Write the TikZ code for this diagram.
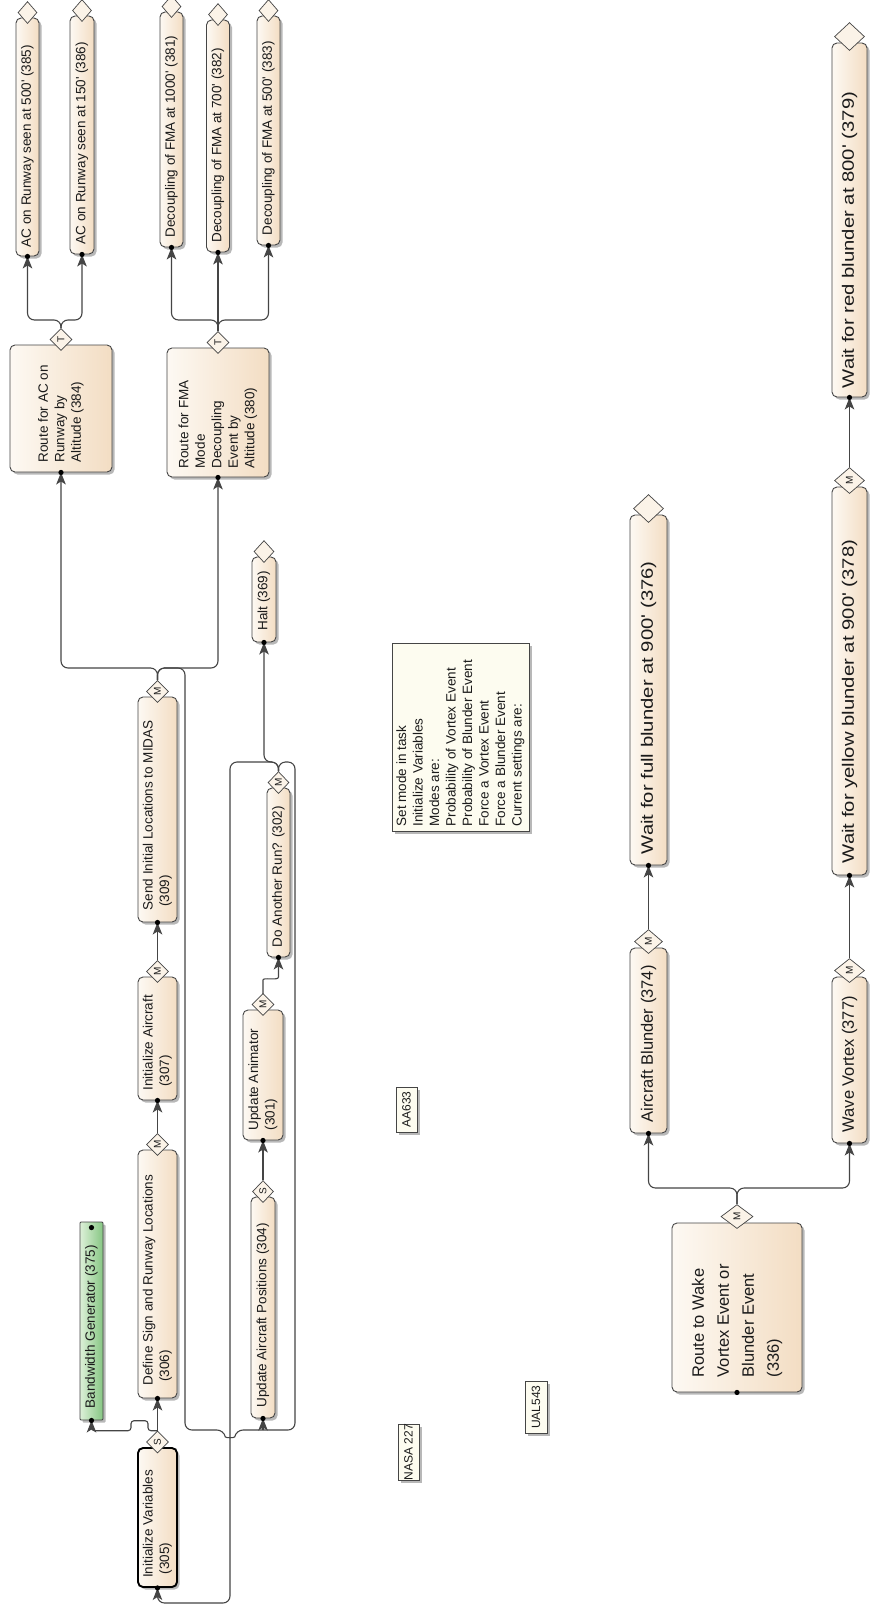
\documentclass[tikz,border=0pt]{standalone}
\usepackage{fontspec}
\setmainfont{Liberation Sans}
\usetikzlibrary{arrows.meta,shapes.geometric,calc,shadows}
\definecolor{boxL}{HTML}{FDF9F3}
\definecolor{boxR}{HTML}{F3DDC3}
\definecolor{edge}{HTML}{454545}
\definecolor{grnL}{HTML}{DDF0D8}
\definecolor{grnR}{HTML}{86C683}
\definecolor{noteF}{HTML}{FDFCF0}
\definecolor{txtc}{HTML}{1A1A1A}
\definecolor{diaF}{HTML}{FBF3E8}
\newcommand\bxx[6]{\node[#6,minimum width=#4,minimum height=#5] (#1) at (#2,#3) {};}
\newcommand\tx[4]{\node[#4] (t#1) at ($(#1.south)+(0,-#2)$) {#3};}
\newcommand\dm[5]{\node[dia,minimum width=#2,minimum height=#3] (d#1) at ($(n#1.north)+(0,-#4)$) {#5};}
\newcommand\sym[1]{\rotatebox{90}{\fontsize{10}{10}\selectfont #1}}
\newcommand\apos{\textquotesingle}
\newcommand\wide[1]{\scalebox{1.23}[1]{#1}}
\begin{document}
\begin{tikzpicture}[x=1pt,y=-1pt,
  shd/.style={drop shadow={shadow xshift=2.5pt,shadow yshift=-2.5pt,fill=black,opacity=0.28}},
  box/.style={draw=edge,line width=0.9pt,rounded corners=5pt,left color=boxL,right color=boxR,inner sep=0pt,shd},
  boldbox/.style={draw=black,line width=1.9pt},
  gbox/.style={draw=edge,line width=0.9pt,rounded corners=1pt,left color=grnL,right color=grnR,inner sep=0pt,shd},
  notebox/.style={draw=edge,line width=1pt,fill=noteF,inner sep=0pt,shd},
  lbl/.style={draw=edge,line width=0.9pt,fill=noteF,inner sep=0pt,shd},
  dia/.style={diamond,draw=edge,line width=0.7pt,fill=diaF,inner sep=0pt,text=txtc},
  txt/.style={rotate=90,anchor=west,align=left,inner sep=0pt,text=txtc,font=\fontsize{13.5}{16.5}\selectfont},
  bigtxt/.style={rotate=90,anchor=west,align=left,inner sep=0pt,text=txtc,font=\fontsize{16.5}{25}\selectfont},
  lbltxt/.style={rotate=90,inner sep=0pt,text=txtc,font=\fontsize{12}{12}\selectfont},
  conn/.style={draw=edge,line width=1.1pt,rounded corners=7pt},
  arr/.style={-{Stealth[length=12pt,width=9.5pt,inset=3pt]}},
  dot/.style={fill=black}
]
\useasboundingbox (0,0) rectangle (870,1614);
\fill[white] (0,0) rectangle (870,1614);

% ---------- boxes ----------
\bxx{n385}{27.5}{137}{23}{238}{box}
\bxx{n386}{82}{135}{24}{238}{box}
\bxx{n381}{171.5}{129.5}{23}{235}{box}
\bxx{n382}{218}{136}{23}{232}{box}
\bxx{n383}{268.5}{130.5}{23}{229}{box}
\bxx{n384}{61}{408.5}{102}{127}{box}
\bxx{n380}{218}{412.5}{102}{129}{box}
\bxx{n369}{264}{599.5}{24}{85}{box}
\bxx{n309}{157.5}{809.5}{39}{225}{box}
\bxx{n307}{157.5}{1038.5}{39}{123}{box}
\bxx{n306}{157.5}{1274}{39}{248}{box}
\bxx{n305}{157.5}{1517.5}{39}{139}{box,boldbox}
\bxx{n375}{91.5}{1321}{23}{198}{gbox}
\bxx{n302}{278.5}{872.5}{23}{169}{box}
\bxx{n301}{263}{1075}{40}{130}{box}
\bxx{n304}{263}{1307.5}{24}{221}{box}
\bxx{n379}{849.5}{220}{35}{354}{box}
\bxx{n376}{648.5}{690}{37}{350}{box}
\bxx{n378}{849.5}{681}{35}{388}{box}
\bxx{n374}{648.5}{1040.5}{37}{185}{box}
\bxx{n377}{849.5}{1060}{35}{166}{box}
\bxx{n336}{737}{1307.5}{130}{169}{box}
\bxx{note}{460.5}{737}{137}{188}{notebox}
\bxx{aa}{406.5}{1109.5}{21}{45}{lbl}
\bxx{nasa}{408.5}{1452}{21}{56}{lbl}
\bxx{ual}{536}{1407}{22}{52}{lbl}

% ---------- texts ----------
\tx{n385}{9}{AC on Runway seen at 500\apos{} (385)}{txt}
\tx{n386}{10}{AC on Runway seen at 150\apos{} (386)}{txt}
\tx{n381}{10}{Decoupling of FMA at 1000\apos{} (381)}{txt}
\tx{n382}{10}{Decoupling of FMA at 700\apos{} (382)}{txt}
\tx{n383}{10}{Decoupling of FMA at 500\apos{} (383)}{txt}
\tx{n384}{10}{Route for AC on\\Runway by\\Altitude (384)}{txt}
\tx{n380}{9}{Route for FMA\\Mode\\Decoupling\\Event by\\Altitude (380)}{txt}
\tx{n369}{12}{Halt (369)}{txt}
\tx{n309}{12}{Send Initial Locations to MIDAS\\\ (309)}{txt}
\tx{n307}{10}{Initialize Aircraft\\\ (307)}{txt}
\tx{n306}{13}{Define Sign and Runway Locations\\\ (306)}{txt}
\tx{n305}{10}{Initialize Variables\\\ (305)}{txt}
\tx{n375}{12}{Bandwidth Generator (375)}{txt}
\tx{n302}{10}{Do Another Run? (302)}{txt}
\tx{n301}{10}{Update Animator\\(301)}{txt}
\tx{n304}{11}{Update Aircraft Positions (304)}{txt}
\tx{n379}{9}{\wide{Wait for red blunder at 800\apos{} (379)}}{bigtxt}
\tx{n376}{11}{\wide{Wait for full blunder at 900\apos{} (376)}}{bigtxt}
\tx{n378}{12}{\wide{Wait for yellow blunder at 900\apos{} (378)}}{bigtxt}
\tx{n374}{11}{Aircraft Blunder (374)}{bigtxt}
\tx{n377}{11}{Wave Vortex (377)}{bigtxt}
\tx{n336}{15}{Route to Wake\\Vortex Event or\\Blunder Event\\(336)}{bigtxt}
\tx{note}{5}{Set mode in task\\Initialize Variables\\Modes are:\\Probability of Vortex Event\\Probability of Blunder Event\\Force a Vortex Event\\Force a Blunder Event\\Current settings are:}{txt}
\node[lbltxt] (taa) at (aa.center) {AA633};
\node[lbltxt] (tnasa) at (nasa.center) {NASA 227};
\node[lbltxt] (tual) at (ual.center) {UAL543};

% ---------- diamonds ----------
\dm{385}{19}{22}{5}{}
\dm{386}{19}{22}{5}{}
\dm{381}{19}{22}{5}{}
\dm{382}{19}{22}{5}{}
\dm{383}{19}{22}{5}{}
\dm{384}{22}{22}{5}{\sym{T}}
\dm{380}{22}{22}{5}{\sym{T}}
\dm{369}{20}{22}{5}{}
\dm{309}{22}{22}{5}{\sym{M}}
\dm{307}{22}{22}{5}{\sym{M}}
\dm{306}{22}{22}{5}{\sym{M}}
\dm{305}{22}{22}{5}{\sym{S}}
\dm{302}{21}{22}{5}{\sym{M}}
\dm{301}{22}{22}{5}{\sym{M}}
\dm{304}{21}{22}{5}{\sym{S}}
\dm{379}{30}{28}{6}{}
\dm{376}{30}{28}{6}{}
\dm{378}{30}{26}{6}{\sym{M}}
\dm{374}{28}{24}{6}{\sym{M}}
\dm{377}{30}{24}{6}{\sym{M}}
\dm{336}{32}{24}{6}{\sym{M}}

% ---------- junctions ----------
\coordinate (j384) at (61,320);
\coordinate (j380) at (218,320);
\coordinate (j309) at (157.5,668);
\coordinate (j302) at (278.5,762);
\coordinate (k185) at (185,1430);
\coordinate (k230) at (230,1603);
\coordinate (k295) at (295,1430);
\coordinate (b304) at (263,1430);
\coordinate (j336) at (737,1188);

% ---------- connectors ----------
\draw[conn,arr] (d384.north) -- (j384) -| (n385.south);
\draw[conn,arr] (d384.north) -- (j384) -| (n386.south);
\draw[conn,arr] (d380.north) -- (j380) -| (n381.south);
\draw[conn,arr] (d380.north) -- (n382.south);
\draw[conn,arr] (d380.north) -- (j380) -| (n383.south);
\draw[conn,arr] (d309.north) -- (j309) -| (n384.south);
\draw[conn,arr] (d309.north) -- (j309) -| (n380.south);
\draw[conn] (d309.north) -- (j309) -| (k185) -- (224,1430) .. controls (225.5,1438) and (234.5,1438) .. (236,1430) -- (b304);
\draw[conn,arr] (d302.north) -- (j302) -| (n369.south);
\draw[conn,arr] (d302.north) -- (j302) -| (k230) -| (n305.south);
\draw[conn] (d302.north) -- (j302) -| (k295) -- (b304);
\draw[conn,arr] (b304) -- (n304.south);
\draw[conn,arr] (d304.north) -- (n301.south);
\draw[conn,arr] (d301.north) -- (263,987) .. controls (263,977) and (278.5,981) .. (278.5,970) -- (n302.south);
\draw[conn,arr] (d307.north) -- (n309.south);
\draw[conn,arr] (d306.north) -- (n307.south);
\draw[conn,arr] (d305.north) -- (n306.south);
\draw[conn,arr,rounded corners=3pt] (d305.north) -- ++(-9.5,0) -- ++(0,-10) -- ++(-17,0) -- ++(0,10) -| (n375.south);
\draw[conn,arr] (d336.north) -- (j336) -| (n374.south);
\draw[conn,arr] (d336.north) -- (j336) -| (n377.south);
\draw[conn,arr] (d374.north) -- (n376.south);
\draw[conn,arr] (d377.north) -- (n378.south);
\draw[conn,arr] (d378.north) -- (n379.south);

% ---------- dots ----------
\foreach \n in {n385,n386,n381,n382,n383,n384,n380,n369,n309,n307,n306,n305,n375,n302,n301,n304,n379,n376,n378,n374,n377,n336}
  \fill[dot] (\n.south) circle[radius=2.6pt];
\fill[dot] ($(n375.north)+(0,6)$) circle[radius=2.6pt];
\end{tikzpicture}
\end{document}
